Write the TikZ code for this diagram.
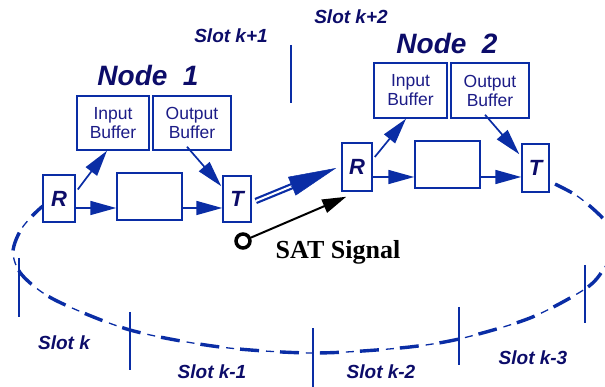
\documentclass[tikz,border=0pt]{standalone}
\usepackage{fontspec}
\setmainfont{Liberation Sans}
\newfontfamily\timesb{Liberation Serif}
\usetikzlibrary{arrows.meta,calc}
\definecolor{linecol}{RGB}{10,45,165}
\definecolor{navy}{RGB}{12,12,105}
\definecolor{txtcol}{RGB}{28,28,135}
\begin{document}
\begin{tikzpicture}[x=1pt,y=-1pt,
 box/.style={draw=linecol, line width=1.5pt, fill=white, inner sep=0pt, text=txtcol, font=\fontsize{17.5}{19}\selectfont, align=center},
 lett/.style={box, text=navy, font=\fontsize{22}{22}\selectfont\bfseries\itshape},
 titlelbl/.style={text=navy, font=\fontsize{28}{28}\selectfont\bfseries\itshape, inner sep=0pt},
 slotlbl/.style={text=navy, font=\fontsize{19}{19}\selectfont\bfseries\itshape, inner sep=0pt},
 flow/.style={draw=linecol, line width=1.7pt, -{Triangle[length=26pt,width=14pt]}},
 sepline/.style={draw=linecol, line width=1.6pt},
 ringthin/.style={draw=linecol, line width=1.3pt, dash pattern=on 8pt off 32pt},
 ringthick/.style={line width=3.4pt, dash pattern=on 19pt off 21pt, dash phase=26pt}
]
\useasboundingbox (0,0) rectangle (605,387);
\clip (0,0) rectangle (605,387);

% ring of slots
\draw[ringthin, postaction={draw=linecol, ringthick}] plot[smooth] coordinates {
 (60,200) (43,206) (22,228) (13,252) (22,275) (55,300) (130,330) (220,347)
 (313,353) (400,348) (459,339) (530,318) (585,289) (603,270) (614,245)
 (606,222) (580,198) (557,185) (540,178)};

% slot separators
\draw[sepline] (291,45) -- (291,103);
\draw[sepline] (19,258) -- (19,317);
\draw[sepline] (130,312) -- (130,370);
\draw[sepline] (313,328) -- (313,390);
\draw[sepline] (459,307) -- (459,365);
\draw[sepline] (585,265) -- (585,323);

% slot labels
\node[slotlbl] (sk1) at (231,36) {Slot k+1};
\node[slotlbl] (sk2) at (351,17) {Slot k+2};
\node[slotlbl] (sk)  at (64,343) {Slot k};
\node[slotlbl] (skm1) at (212,372) {Slot k-1};
\node[slotlbl] (skm2) at (381,372) {Slot k-2};
\node[slotlbl] (skm3) at (533,358) {Slot k-3};

% node titles
\node[titlelbl] (n1) at (148,75.5) {Node\ \ 1};
\node[titlelbl] (n2) at (447,44) {Node\ \ 2};

% node 1
\node[box, minimum width=72pt, minimum height=54pt] (IB1) at (113,123) {Input\\Buffer};
\node[box, minimum width=78pt, minimum height=54pt] (OB1) at (192,123) {Output\\Buffer};
\node[lett, minimum width=32pt, minimum height=47pt] (R1) at (59,198.5) {R};
\node[box, minimum width=65pt, minimum height=47pt] (M1) at (149.5,196.5) {};
\node[lett, minimum width=28pt, minimum height=46pt] (T1) at (237,199) {T};

% node 2
\node[box, minimum width=73pt, minimum height=55pt] (IB2) at (410.5,90.5) {Input\\Buffer};
\node[box, minimum width=78pt, minimum height=55pt] (OB2) at (490,90.5) {Output\\Buffer};
\node[lett, minimum width=30pt, minimum height=48pt] (R2) at (357,167) {R};
\node[box, minimum width=65pt, minimum height=47pt] (M2) at (447.5,164.5) {};
\node[lett, minimum width=27pt, minimum height=48pt] (T2) at (535.5,168) {T};

% node 1 flows
\draw[flow] ($(R1.east)+(2,-9)$) -- ($(IB1.south)+(-6,0)$);
\draw[flow] ($(OB1.south)+(-5,-4)$) -- ($(T1.north west)+(-1,11)$);
\coordinate (a1) at ($(R1.east)+(0,9.5)$);
\draw[flow] (a1) -- (a1 -| M1.west);
\coordinate (a2) at ($(M1.east)+(0,11.5)$);
\draw[flow] (a2) -- (a2 -| T1.west);

% node 2 flows
\draw[flow] ($(R2.east)+(2,-10)$) -- ($(IB2.south)+(-4.5,0)$);
\draw[flow] ($(OB2.south)+(-5,-4)$) -- ($(T2.north west)+(-2,11)$);
\coordinate (b1) at ($(R2.east)+(0,10)$);
\draw[flow] (b1) -- (b1 -| M2.west);
\coordinate (b2) at ($(M2.east)+(0,12.5)$);
\draw[flow] (b2) -- (b2 -| T2.west);

% big transfer arrow
\coordinate (bs) at ($(T1.east)+(4,2)$);
\coordinate (bt) at ($(R2.west)+(-5,1)$);
\draw[draw=linecol, line width=2.2pt, double=white, double distance=2pt, shorten >=40pt] (bs) -- (bt);
\draw[draw=linecol, line width=0.5pt, -{Triangle[length=48pt,width=20pt]}] ($(bt)!49pt!(bs)$) -- (bt);

% SAT signal
\node[circle, draw=black, line width=3.5pt, minimum size=14pt, inner sep=0pt, fill=white] (sat) at (243,241) {};
\draw[black, line width=2pt, -{Triangle[length=24pt,width=14pt]}] (sat) -- ($(R2.south west)+(5,5)$);
\node[font=\timesb\bfseries\fontsize{26}{26}\selectfont, inner sep=0pt] (satl) at (338,252) {SAT Signal};
\end{tikzpicture}
\end{document}
